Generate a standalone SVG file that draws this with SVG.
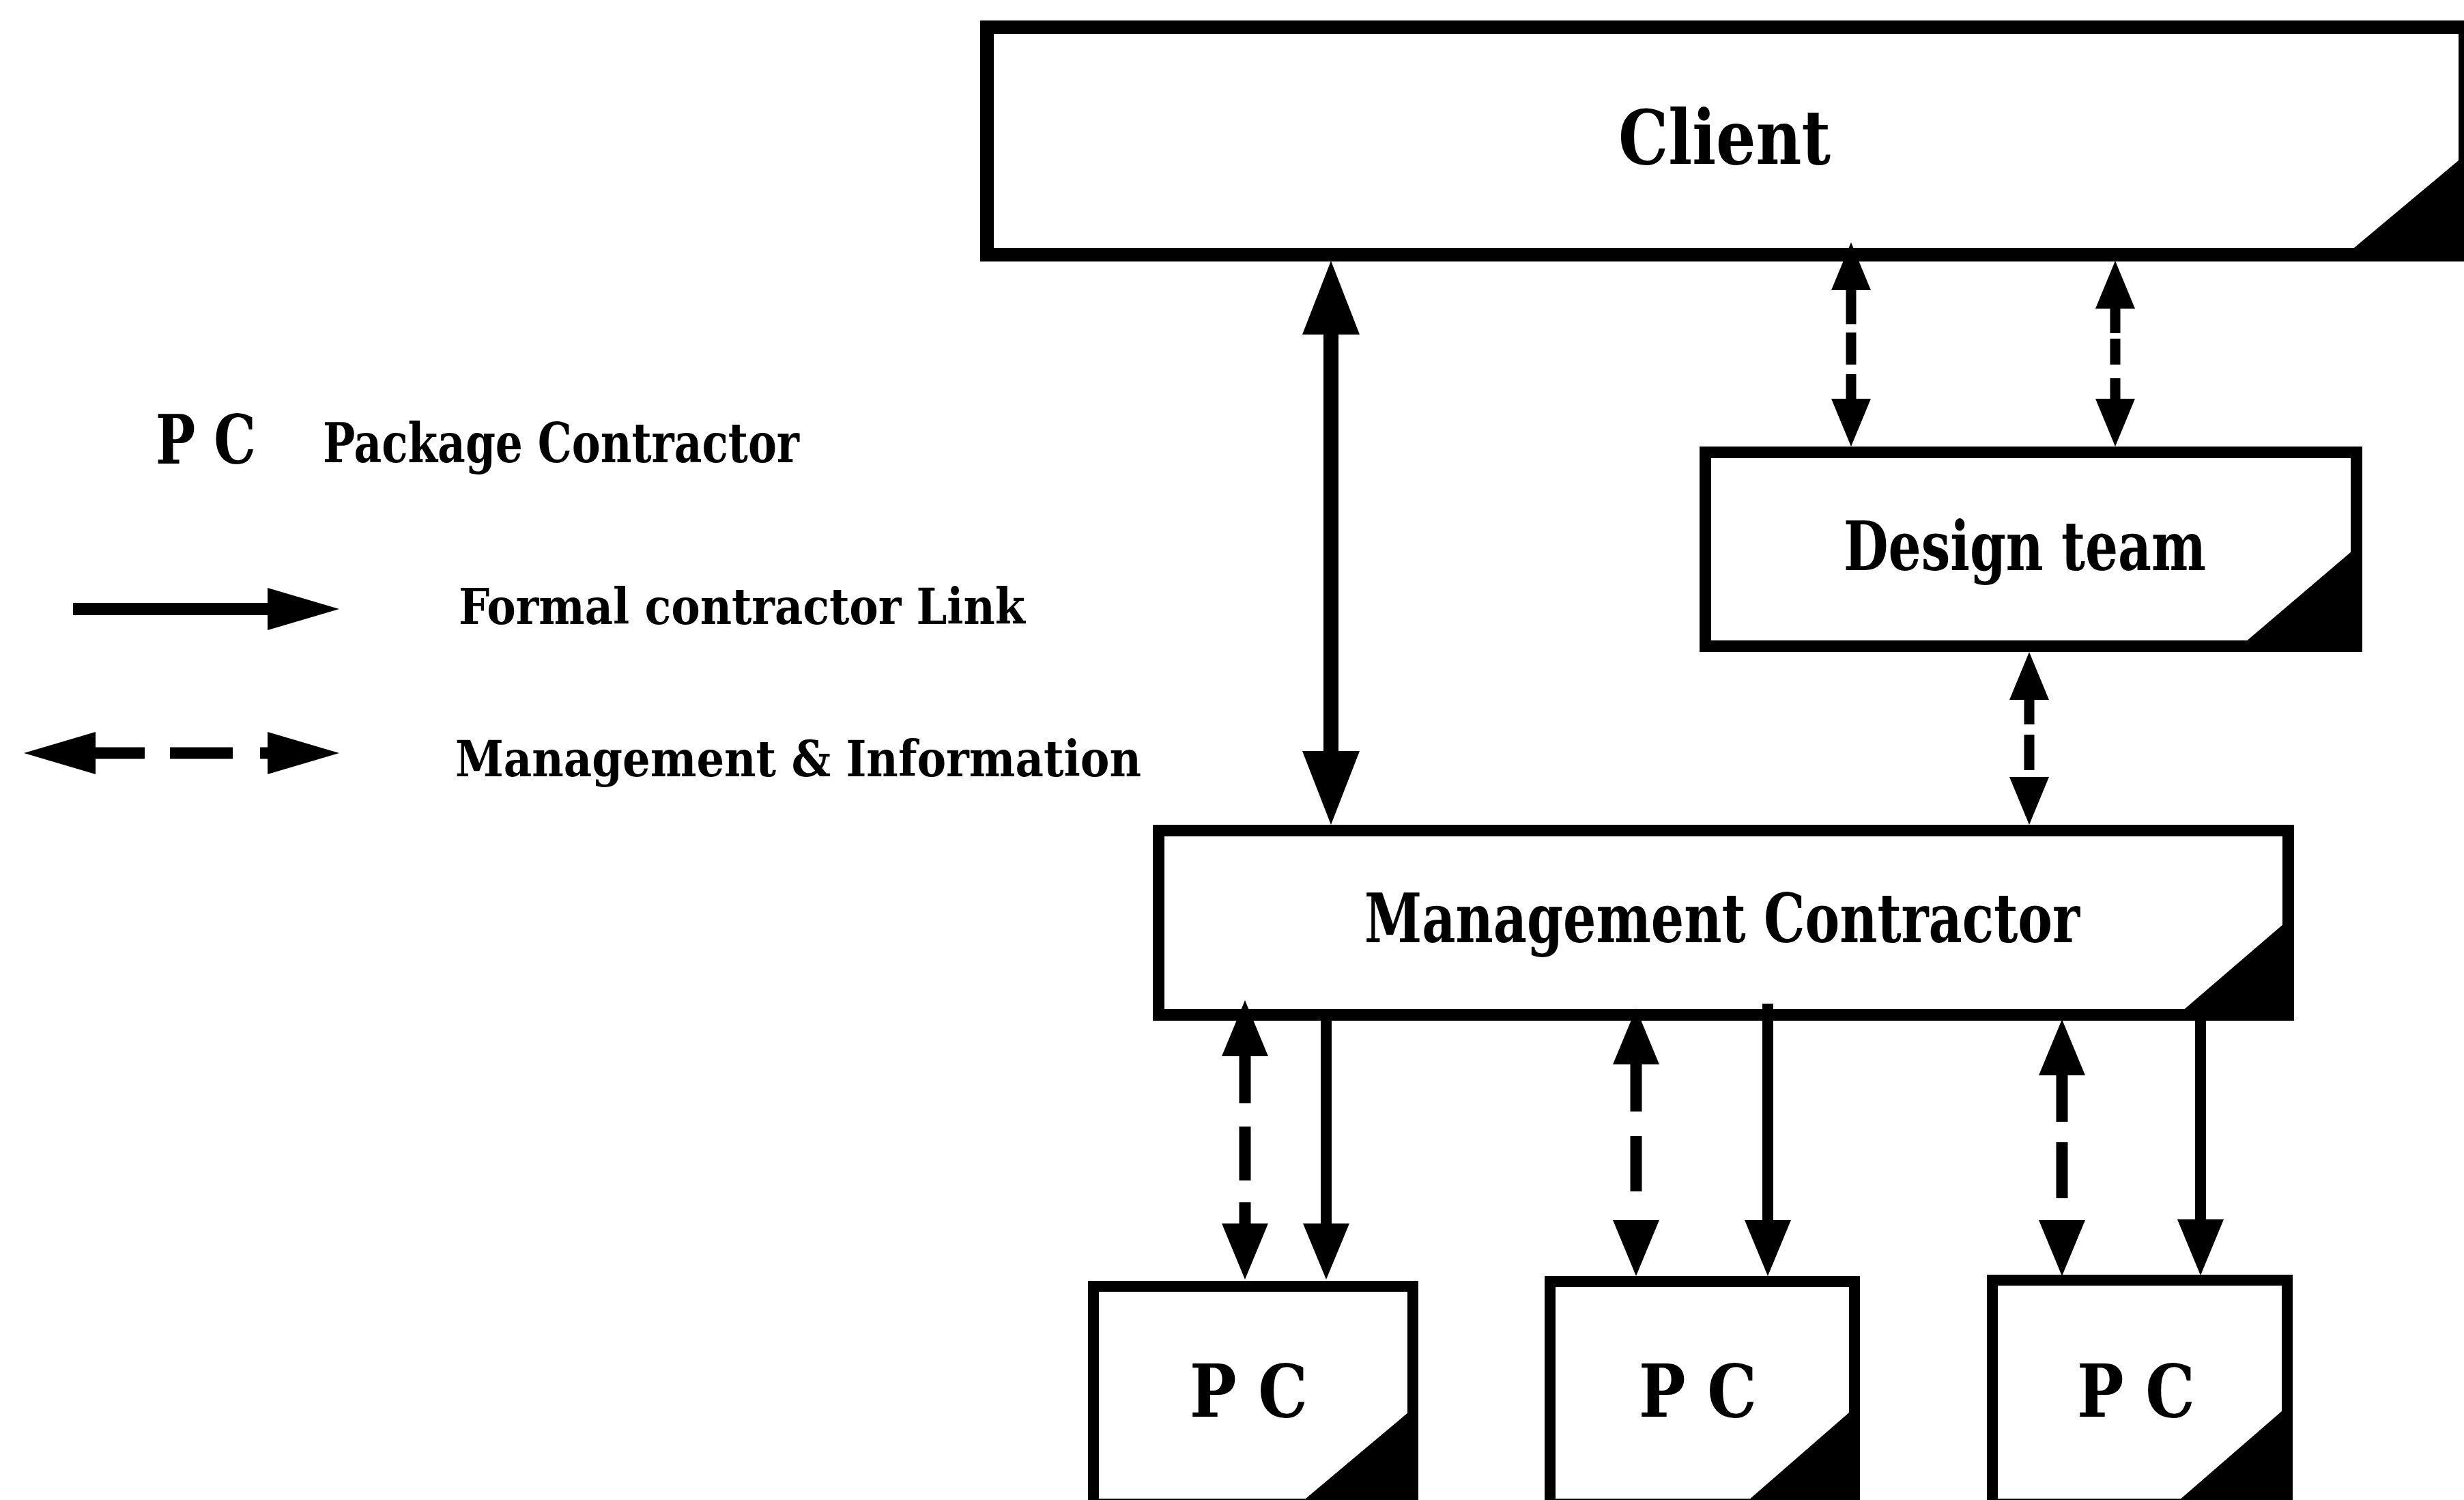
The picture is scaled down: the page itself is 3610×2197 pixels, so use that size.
<svg xmlns="http://www.w3.org/2000/svg" width="3610" height="2197" viewBox="0 0 3610 2197">
  <style>
    .box { fill: #fff; stroke: #000; }
    .corner { fill: #000; }
    .lbl { font-family: 'DejaVu Serif Condensed', 'DejaVu Serif', 'Liberation Serif', serif; font-weight: bold; fill: #000; }
    .solid { stroke: #000; fill: none; stroke-linecap: butt; }
    .dash { stroke: #000; fill: none; stroke-linecap: butt; }
  </style>
  <defs>
    <!-- arrowheads: base at the path end, tip pointing outward -->
    <marker id="mBig" markerUnits="userSpaceOnUse" viewBox="0 -45 112 90" refX="0" refY="0" markerWidth="112" markerHeight="90" orient="auto-start-reverse" overflow="visible">
      <path d="M0,-42 L108,0 L0,42 Z" fill="#000"/>
    </marker>
    <marker id="mMid" markerUnits="userSpaceOnUse" viewBox="0 -36 86 72" refX="0" refY="0" markerWidth="86" markerHeight="72" orient="auto-start-reverse" overflow="visible">
      <path d="M0,-34 L82,0 L0,34 Z" fill="#000"/>
    </marker>
    <marker id="mSmall" markerUnits="userSpaceOnUse" viewBox="0 -31 74 62" refX="0" refY="0" markerWidth="74" markerHeight="62" orient="auto-start-reverse" overflow="visible">
      <path d="M0,-29 L70,0 L0,29 Z" fill="#000"/>
    </marker>
    <marker id="mLegend" markerUnits="userSpaceOnUse" viewBox="0 -33 108 66" refX="0" refY="0" markerWidth="108" markerHeight="66" orient="auto-start-reverse" overflow="visible">
      <path d="M0,-31 L105,0 L0,31 Z" fill="#000"/>
    </marker>
  </defs>

  <rect width="3610" height="2197" fill="#fff"/>

  <!-- legend -->
  <g id="legend">
    <text class="lbl" x="228" y="679" font-size="100" textLength="147" lengthAdjust="spacingAndGlyphs">P C</text>
    <text class="lbl" x="473" y="677" font-size="80" textLength="698" lengthAdjust="spacingAndGlyphs">Package Contractor</text>
    <line class="solid" x1="107" y1="892" x2="392" y2="892" stroke-width="18" marker-end="url(#mLegend)"/>
    <text class="lbl" x="672" y="914" font-size="72" textLength="830" lengthAdjust="spacingAndGlyphs">Formal contractor Link</text>
    <line class="dash" x1="140" y1="1103" x2="392" y2="1103" stroke-width="17" stroke-dasharray="72 37 92 40 11" marker-start="url(#mLegend)" marker-end="url(#mLegend)"/>
    <text class="lbl" x="667" y="1137" font-size="72" textLength="1005" lengthAdjust="spacingAndGlyphs">Management &amp; Information</text>
  </g>

  <!-- nodes -->
  <g id="client">
    <rect class="box" x="1446" y="40" width="2166" height="333" stroke-width="20"/>
    <polygon class="corner" points="3437,373 3620,373 3620,220"/>
    <text class="lbl" x="2371" y="240" font-size="110" textLength="311" lengthAdjust="spacingAndGlyphs">Client</text>
  </g>

  <g id="design-team">
    <rect class="box" x="2498.5" y="662.5" width="954" height="284" stroke-width="17"/>
    <polygon class="corner" points="3283,946 3452,946 3452,802"/>
    <text class="lbl" x="2701" y="835" font-size="99" textLength="531" lengthAdjust="spacingAndGlyphs">Design team</text>
  </g>

  <g id="management-contractor">
    <rect class="box" x="1697.5" y="1216.5" width="1655" height="270" stroke-width="17"/>
    <polygon class="corner" points="3190,1487 3353,1487 3353,1347"/>
    <text class="lbl" x="1999" y="1380" font-size="99" textLength="1048" lengthAdjust="spacingAndGlyphs">Management Contractor</text>
  </g>

  <g id="pc-1">
    <rect class="box" x="1602" y="1884" width="468" height="319" stroke-width="16"/>
    <polygon class="corner" points="1895,2210 2070,2210 2070,2063"/>
    <text class="lbl" x="1743" y="2075" font-size="107" textLength="173" lengthAdjust="spacingAndGlyphs">P C</text>
  </g>

  <g id="pc-2">
    <rect class="box" x="2271" y="1877" width="446" height="326" stroke-width="16"/>
    <polygon class="corner" points="2547,2210 2717,2210 2717,2062"/>
    <text class="lbl" x="2401" y="2075" font-size="107" textLength="173" lengthAdjust="spacingAndGlyphs">P C</text>
  </g>

  <g id="pc-3">
    <rect class="box" x="2919" y="1875" width="432" height="328" stroke-width="16"/>
    <polygon class="corner" points="3178,2210 3351,2210 3351,2060"/>
    <text class="lbl" x="3043" y="2075" font-size="107" textLength="173" lengthAdjust="spacingAndGlyphs">P C</text>
  </g>

  <!-- connectors -->
  <g id="connectors">
    <!-- Client <-> Management Contractor (formal) -->
    <line class="solid" x1="1950" y1="490" x2="1950" y2="1100" stroke-width="22" marker-start="url(#mBig)" marker-end="url(#mBig)"/>
    <!-- Client <-> Design team (management & information) -->
    <line class="dash" x1="2712" y1="425" x2="2712" y2="584" stroke-width="15" stroke-dasharray="50 12 47 14 36" marker-start="url(#mSmall)" marker-end="url(#mSmall)"/>
    <line class="dash" x1="3099" y1="452" x2="3099" y2="584" stroke-width="15" stroke-dasharray="36 8 38 20 30" marker-start="url(#mSmall)" marker-end="url(#mSmall)"/>
    <!-- Design team <-> Management Contractor -->
    <line class="dash" x1="2973" y1="1025" x2="2973" y2="1138" stroke-width="15" stroke-dasharray="36 15 52 10" marker-start="url(#mSmall)" marker-end="url(#mSmall)"/>
    <!-- Management Contractor <-> package contractors -->
    <line class="dash" x1="1824" y1="1547" x2="1824" y2="1792" stroke-width="17" stroke-dasharray="69 34 79 32 31" marker-start="url(#mMid)" marker-end="url(#mMid)"/>
    <line class="solid" x1="1943" y1="1487" x2="1943" y2="1792" stroke-width="16" marker-end="url(#mMid)"/>
    <line class="dash" x1="2397" y1="1559" x2="2397" y2="1787" stroke-width="17" stroke-dasharray="69 36 81 42" marker-start="url(#mMid)" marker-end="url(#mMid)"/>
    <line class="solid" x1="2590" y1="1470" x2="2590" y2="1787" stroke-width="16" marker-end="url(#mMid)"/>
    <line class="dash" x1="3021" y1="1575" x2="3021" y2="1787" stroke-width="17" stroke-dasharray="68 30 82 32" marker-start="url(#mMid)" marker-end="url(#mMid)"/>
    <line class="solid" x1="3224" y1="1487" x2="3224" y2="1786" stroke-width="16" marker-end="url(#mMid)"/>
  </g>
</svg>
